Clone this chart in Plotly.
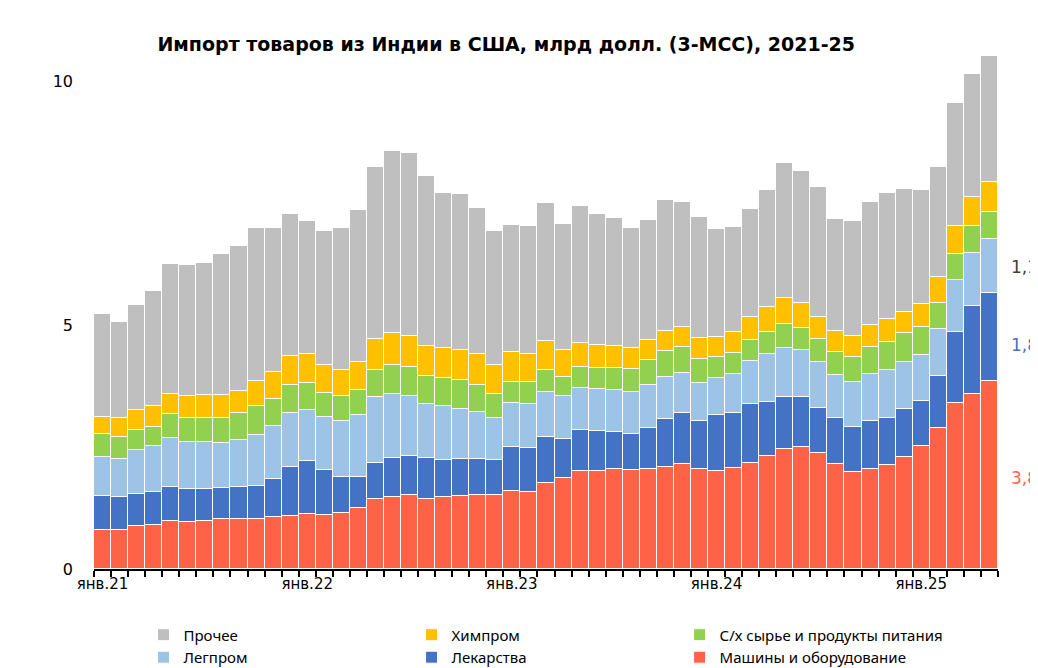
import numpy as np
import plotly.graph_objects as go

months = ["янв", "фев", "мар", "апр", "май", "июн", "июл", "авг", "сен", "окт", "ноя", "дек"]
periods = [f"{months[i % 12]}.{21 + i // 12}" for i in range(53)]

# cumulative tops (stack order bottom->top)
top_machines = [0.80,0.80,0.88,0.91,0.99,0.97,0.99,1.02,1.03,1.03,1.06,1.08,1.12,1.10,1.14,1.25,1.44,1.48,1.52,1.44,1.48,1.50,1.52,1.52,
                1.60,1.58,1.77,1.87,2.01,2.01,2.05,2.03,2.05,2.09,2.16,2.05,2.01,2.07,2.18,2.32,2.46,2.51,2.38,2.16,1.99,2.05,2.14,2.30,2.53,2.90,3.41,3.59,3.86]
top_drugs = [1.50,1.48,1.54,1.58,1.69,1.64,1.64,1.66,1.69,1.71,1.85,2.09,2.22,2.03,1.89,1.89,2.18,2.28,2.32,2.28,2.24,2.26,2.26,2.24,
             2.51,2.48,2.71,2.67,2.85,2.83,2.81,2.77,2.90,3.08,3.20,3.04,3.16,3.20,3.39,3.43,3.53,3.53,3.31,3.10,2.92,3.04,3.10,3.29,3.45,3.96,4.87,5.40,5.67]
top_light = [2.30,2.26,2.44,2.53,2.69,2.61,2.60,2.58,2.65,2.75,2.94,3.20,3.27,3.12,3.04,3.16,3.53,3.59,3.55,3.39,3.35,3.29,3.22,3.10,
             3.41,3.39,3.63,3.55,3.72,3.70,3.68,3.63,3.78,3.94,4.02,3.82,3.92,4.00,4.27,4.41,4.54,4.50,4.25,3.98,3.84,4.00,4.09,4.25,4.39,4.93,5.93,6.49,6.76]
top_agri = [2.77,2.71,2.85,2.92,3.18,3.10,3.10,3.10,3.20,3.35,3.49,3.78,3.82,3.61,3.55,3.68,4.08,4.19,4.15,3.96,3.92,3.88,3.78,3.59,
            3.84,3.84,4.08,3.94,4.15,4.13,4.13,4.11,4.29,4.48,4.56,4.31,4.35,4.43,4.70,4.87,5.03,4.95,4.72,4.46,4.35,4.56,4.66,4.83,4.97,5.46,6.47,7.04,7.33]
top_chem = [3.12,3.10,3.26,3.35,3.59,3.55,3.56,3.56,3.66,3.86,4.04,4.37,4.40,4.19,4.08,4.25,4.72,4.83,4.78,4.58,4.54,4.50,4.41,4.19,
            4.46,4.40,4.68,4.50,4.64,4.60,4.58,4.54,4.70,4.89,4.97,4.74,4.76,4.85,5.17,5.38,5.56,5.46,5.17,4.89,4.78,5.01,5.13,5.28,5.44,5.98,7.04,7.62,7.93]
top_total = [5.22,5.07,5.42,5.71,6.26,6.24,6.28,6.47,6.63,7.00,7.00,7.29,7.13,6.94,7.00,7.37,8.25,8.58,8.54,8.05,7.72,7.70,7.41,6.94,
             7.06,7.04,7.51,7.08,7.45,7.29,7.19,7.00,7.15,7.56,7.52,7.21,6.98,7.02,7.39,7.78,8.32,8.17,7.84,7.17,7.13,7.52,7.72,7.80,7.78,8.25,9.55,10.16,10.53]

names = ["Машины и оборудование", "Лекарства", "Легпром", "С/х сырье и продукты питания", "Химпром", "Прочее"]
colors = ["#FF6347", "#4472C4", "#9DC3E6", "#92D050", "#FFC000", "#BFBFBF"]
tops = np.array([top_machines, top_drugs, top_light, top_agri, top_chem, top_total])
vals = np.diff(np.vstack([np.zeros(53), tops]), axis=0)

x = list(range(53))
fig = go.Figure()
for n, c, v in zip(names, colors, vals):
    fig.add_bar(x=x, y=v, name=n, marker=dict(color=c, line=dict(color="white", width=1)))

label_idx = [0, 12, 24, 36, 48]
fig.update_layout(
    barmode="stack", bargap=0,
    width=1038, height=668, plot_bgcolor="white", paper_bgcolor="white",
    font=dict(family="DejaVu Sans", size=16, color="black"),
    margin=dict(l=86, r=48, t=48, b=107, autoexpand=False),
    title=dict(text="<b>Импорт товаров из Индии в США, млрд долл. (3-МСС), 2021-25</b>",
               x=0.48, xanchor="center", y=0.955, font=dict(size=19)),
    legend=dict(orientation="h", traceorder="reversed", x=0.5, xanchor="center",
                yref="container", y=0.045, yanchor="middle",
                font=dict(family="Noto Sans", size=15), itemwidth=30, tracegroupgap=0),
    xaxis=dict(range=[-0.5, 52.5], tickvals=label_idx, ticktext=[periods[i] for i in label_idx],
               ticks="", showline=True, linecolor="black", linewidth=2, tickfont=dict(size=15),
               minor=dict(ticks="outside", tick0=-0.5, dtick=1, ticklen=6, tickcolor="black", tickwidth=2)),
    yaxis=dict(range=[0, 10.52], tickvals=[0, 5, 10], showgrid=False, zeroline=False, ticks="",
               ticklabelstandoff=20, tickfont=dict(size=16)),
)
for txt, yv, col in [("1,1", 6.2, "#404040"), ("1,8", 4.6, "#4472C4"), ("3,8", 1.87, "#FF6347")]:
    fig.add_annotation(x=1.012, xref="paper", y=yv, yref="y", text=txt, showarrow=False,
                       xanchor="left", font=dict(size=17, color=col))
fig.write_html("out.html")
